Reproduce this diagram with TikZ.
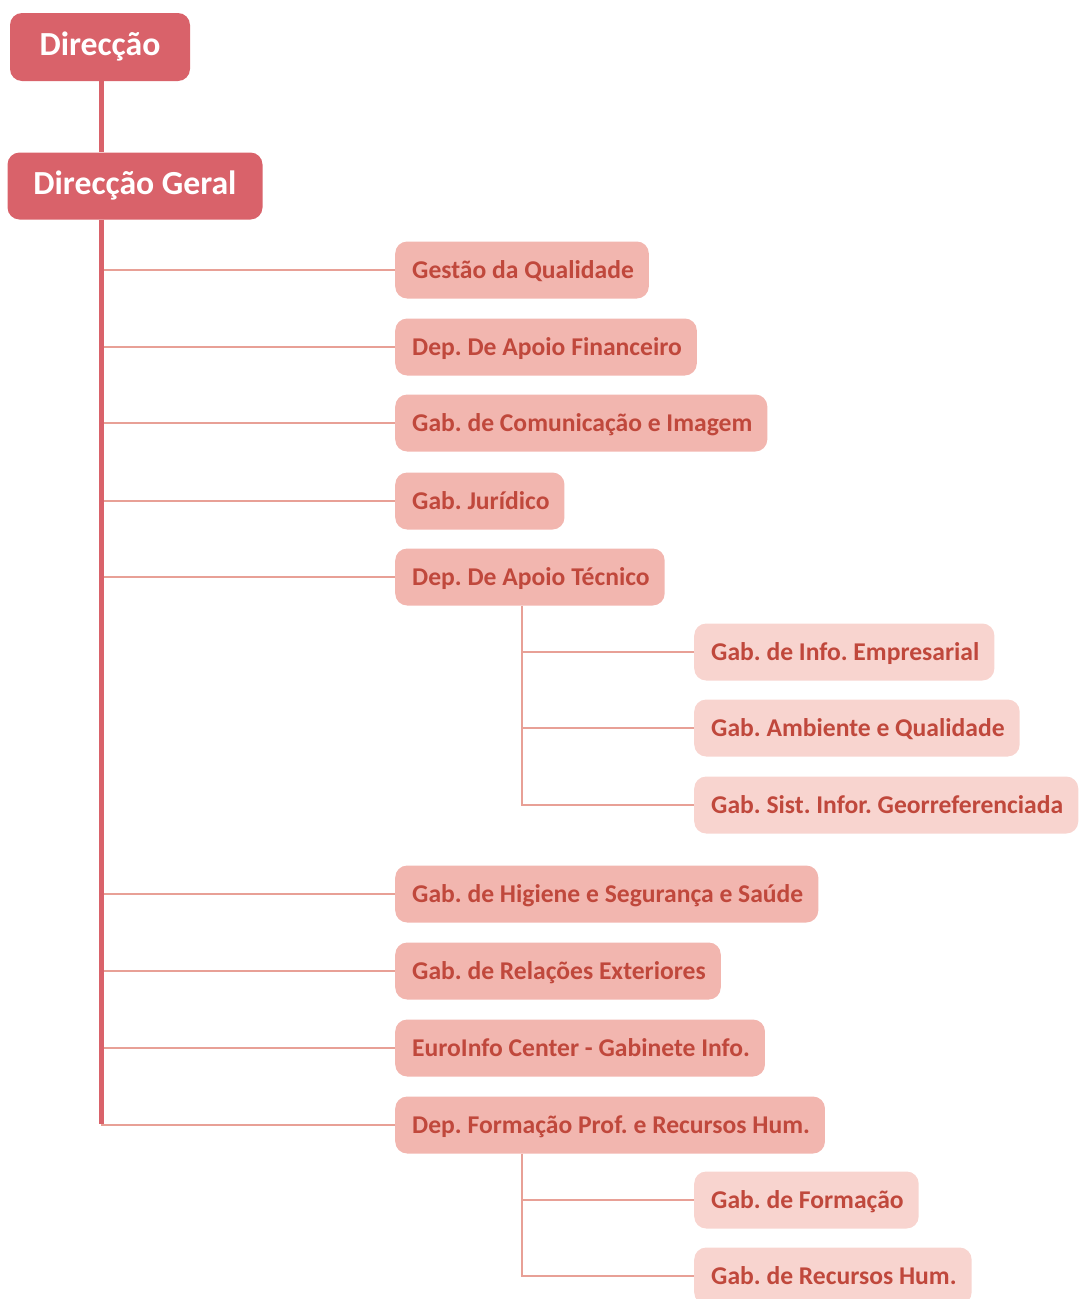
\documentclass[tikz,border=0pt]{standalone}
\usepackage{fontspec}
\setmainfont{Carlito}
\frenchspacing
\definecolor{topfill}{HTML}{D9626A}
\definecolor{midfill}{HTML}{F2B6AF}
\definecolor{lowfill}{HTML}{F8D4CF}
\definecolor{boxtext}{HTML}{C0483C}
\definecolor{trunkcol}{HTML}{D9626A}
\definecolor{branchcol}{HTML}{E8A096}
\tikzset{
  topbox/.style={rectangle, rounded corners=12pt, fill=topfill, text=white, font=\bfseries\fontsize{33.7}{35}\selectfont, inner xsep=16pt, minimum height=68pt},
  midbox/.style={rectangle, rounded corners=12pt, fill=midfill, text=boxtext, font=\bfseries\fontsize{25.6}{27}\selectfont, inner xsep=0pt, text depth=0pt, minimum height=57pt, anchor=west, append after command={}},
  lowbox/.style={midbox, fill=lowfill},
  trunk/.style={draw=trunkcol, line width=5pt},
  branch/.style={draw=branchcol, line width=1.5pt},
}
\newcommand{\bx}[1]{\hspace*{17pt}#1\hspace*{15pt}}
\begin{document}
\begin{tikzpicture}[x=1pt,y=-1pt]
\useasboundingbox (0,0) rectangle (1081,1299);
\coordinate (tk) at (101,0);
\coordinate (sk) at (522,0);
% top level
\node[topbox, minimum width=180pt] (dir) at (100,47) {Direcção};
\node[topbox, minimum width=255pt, minimum height=67pt] (dg) at (135,186) {Direcção Geral};
% second level
\node[midbox] (q)  at (395,270)  {\bx{Gestão da Qualidade}};
\node[midbox] (f)  at (395,347)  {\bx{Dep. De Apoio Financeiro}};
\node[midbox] (c)  at (395,423)  {\bx{Gab. de Comunicação e Imagem}};
\node[midbox] (j)  at (395,501)  {\bx{Gab. Jurídico}};
\node[midbox] (t)  at (395,577)  {\bx{Dep. De Apoio Técnico}};
\node[midbox] (h)  at (395,894)  {\bx{Gab. de Higiene e Segurança e Saúde}};
\node[midbox] (r)  at (395,971)  {\bx{Gab. de Relações Exteriores}};
\node[midbox] (e)  at (395,1048) {\bx{EuroInfo Center - Gabinete Info.}};
\node[midbox] (p)  at (395,1125) {\bx{Dep. Formação Prof. e Recursos Hum.}};
% third level
\node[lowbox] (t1) at (694,652)  {\bx{Gab. de Info. Empresarial}};
\node[lowbox] (t2) at (694,728)  {\bx{Gab. Ambiente e Qualidade}};
\node[lowbox] (t3) at (694,805)  {\bx{Gab. Sist. Infor. Georreferenciada}};
\node[lowbox] (p1) at (694,1200) {\bx{Gab. de Formação}};
\node[lowbox] (p2) at (694,1276) {\bx{Gab. de Recursos Hum.}};
% connectors
\foreach \n in {q,f,c,j,t,h,r,e,p}{
  \draw[branch] (tk |- \n.west) -- (\n.west);
}
\draw[branch] (sk |- t.south) -- (sk |- t3.west) -- (t3.west);
\draw[branch] (sk |- t1.west) -- (t1.west);
\draw[branch] (sk |- t2.west) -- (t2.west);
\draw[branch] (sk |- p.south) -- (sk |- p2.west) -- (p2.west);
\draw[branch] (sk |- p1.west) -- (p1.west);
\draw[trunk] (tk |- dir.south) -- (tk |- dg.north);
\draw[trunk] (tk |- dg.south) -- ([yshift=1.25pt]tk |- p.west);
\end{tikzpicture}
\end{document}
